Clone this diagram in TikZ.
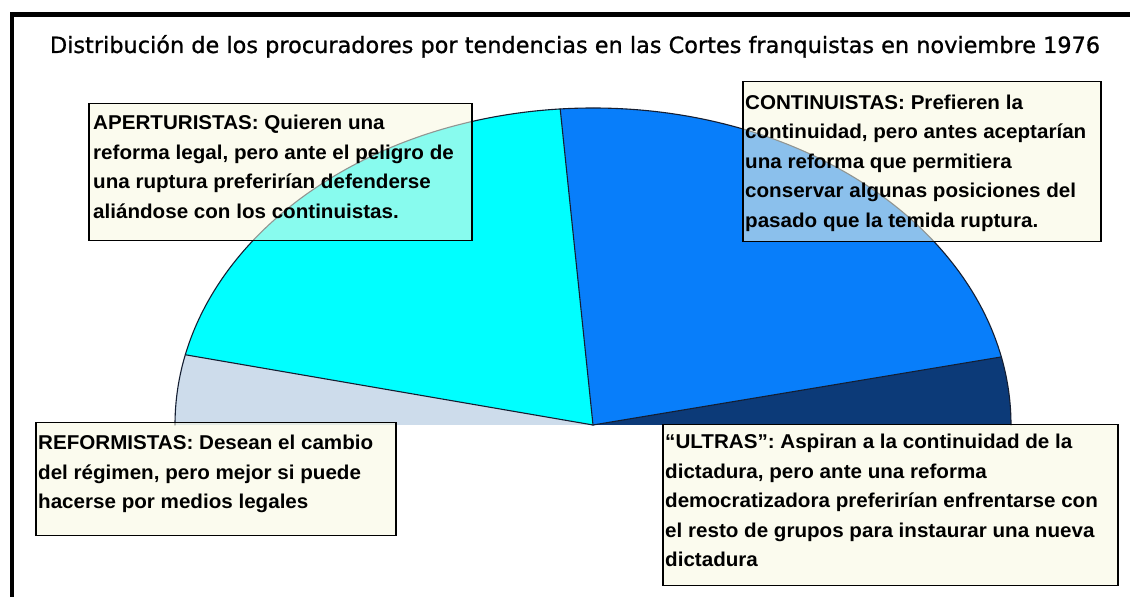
\documentclass[tikz,border=0pt]{standalone}
\usepackage{fontspec}
\newfontfamily\titlefont[FakeBold=0.9]{DejaVu Sans}
\newfontfamily\boxfont[FakeStretch=1.03]{Liberation Sans}
\definecolor{refcol}{RGB}{205,220,235}
\definecolor{apercol}{RGB}{0,255,255}
\definecolor{contcol}{RGB}{8,126,250}
\definecolor{ultcol}{RGB}{12,58,120}
\definecolor{outline}{RGB}{20,30,50}
\definecolor{ivory}{RGB}{248,248,225}
\begin{document}
\begin{tikzpicture}[x=1pt,y=1pt,
  tbox/.style={draw=black, line width=1.5pt, fill=ivory, fill opacity=0.55, draw opacity=1, anchor=north west, inner sep=0pt},
  ttext/.style={anchor=north west, inner sep=0pt, align=left, text=black,
    font=\boxfont\bfseries\fontsize{20}{29.5}\selectfont},
  pieline/.style={draw=outline, line width=1.1pt, line join=round, line cap=round}]
\useasboundingbox (0,0) rectangle (1130,597);
\fill[white] (0,0) rectangle (1130,597);

% pie (semi-ellipse)
\coordinate (C) at (593,172);
\fill[ultcol] (C) -- ({593+418*cos(0)},{172+317*sin(0)}) arc[start angle=0,end angle=12.4,x radius=418pt,y radius=317pt] -- cycle;
\fill[contcol] (C) -- ({593+418*cos(12.4)},{172+317*sin(12.4)}) arc[start angle=12.4,end angle=94.5,x radius=418pt,y radius=317pt] -- cycle;
\fill[apercol] (C) -- ({593+418*cos(94.5)},{172+317*sin(94.5)}) arc[start angle=94.5,end angle=167.2,x radius=418pt,y radius=317pt] -- cycle;
\fill[refcol] (C) -- ({593+418*cos(167.2)},{172+317*sin(167.2)}) arc[start angle=167.2,end angle=180,x radius=418pt,y radius=317pt] -- cycle;
\draw[pieline] ({593+418},172) arc[start angle=0,end angle=180,x radius=418pt,y radius=317pt];
\draw[pieline] (C) -- ({593+418*cos(12.4)},{172+317*sin(12.4)});
\draw[pieline] (C) -- ({593+418*cos(94.5)},{172+317*sin(94.5)});
\draw[pieline] (C) -- ({593+418*cos(167.2)},{172+317*sin(167.2)});

% frame
\draw[line width=4.5pt, line join=miter] (12,0) -- (12,582.5) -- (1130,582.5);

% title
\node[font=\titlefont\fontsize{22.4}{27}\selectfont, anchor=base, inner sep=0pt] (title) at (575,544)
  {Distribución de los procuradores por tendencias en las Cortes franquistas en noviembre 1976};

% boxes
\node[tbox, minimum width=383pt, minimum height=137pt] (aperbox) at (88,494) {};
\node[tbox, minimum width=358pt, minimum height=160pt] (contbox) at (742,516) {};
\node[tbox, minimum width=360pt, minimum height=113pt] (refbox) at (35,175) {};
\node[tbox, minimum width=455pt, minimum height=161pt] (ultbox) at (662,173) {};

% texts
\node[ttext] (apertext) at (93,482) {APERTURISTAS: Quieren una\\reforma legal, pero ante el peligro de\\una ruptura preferirían defenderse\\aliándose con los continuistas.};
\node[ttext] (conttext) at (745,502.5) {CONTINUISTAS: Prefieren la\\continuidad, pero antes aceptarían\\una reforma que permitiera\\conservar algunas posiciones del\\pasado que la temida ruptura.};
\node[ttext] (reftext) at (38,162) {REFORMISTAS: Desean el cambio\\del régimen, pero mejor si puede\\hacerse por medios legales};
\node[ttext] (ulttext) at (665,163) {“ULTRAS”: Aspiran a la continuidad de la\\dictadura, pero ante una reforma\\democratizadora preferirían enfrentarse con\\el resto de grupos para instaurar una nueva\\dictadura};
\end{tikzpicture}
\end{document}
